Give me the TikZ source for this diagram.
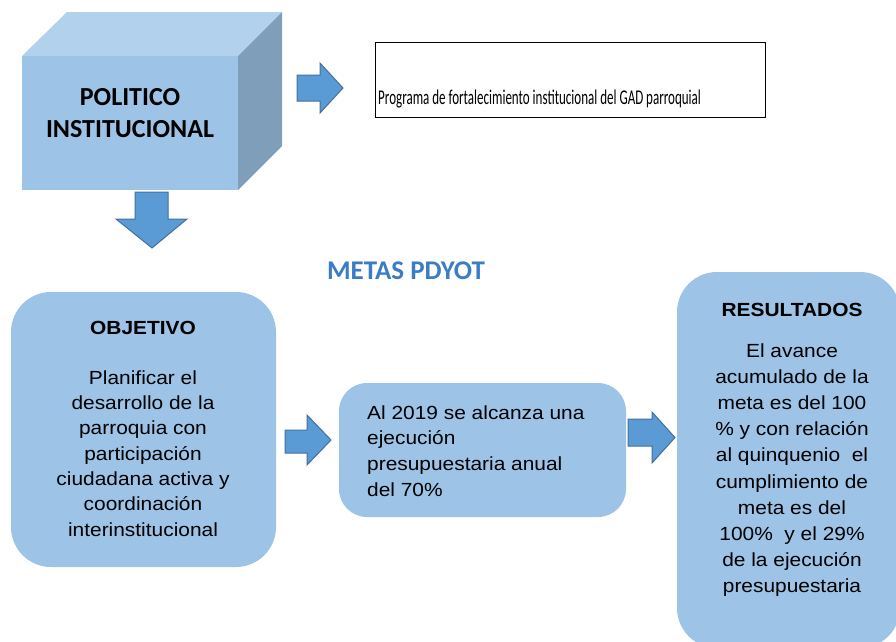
\documentclass[tikz,border=0pt]{standalone}
\usepackage{fontspec}
\setmainfont{Liberation Sans}
\newfontfamily\arialw[FakeStretch=1.1]{Liberation Sans}
\newfontfamily\calibri{Carlito}
\newfontfamily\calibrin[FakeStretch=0.62]{Carlito}
\usetikzlibrary{positioning}
\definecolor{boxblue}{HTML}{9DC3E6}
\definecolor{cubetop}{HTML}{B2D1EC}
\definecolor{cubeside}{HTML}{7F9EBA}
\definecolor{arrowblue}{HTML}{5B9BD5}
\definecolor{arrowline}{HTML}{41719C}
\definecolor{metasblue}{HTML}{3A7CC6}
\tikzset{
  panel/.style={fill=boxblue, draw=none},
  blockarrow/.style={fill=arrowblue, draw=arrowline, line width=1pt, line join=miter},
  titletext/.style={font=\arialw\bfseries\fontsize{19}{24}\selectfont, inner sep=0pt, anchor=base},
  bodytext/.style={font=\arialw\fontsize{19}{25.33}\selectfont, inner sep=0pt, anchor=base}
}
\begin{document}
\begin{tikzpicture}[x=1pt,y=-1pt]
                    \useasboundingbox (0,0) rectangle (896,641);

                    % cube
                    \fill[boxblue] (22,56) rectangle (238,190);
                    \fill[cubetop] (22,56) -- (67,12) -- (282,12) -- (238,56) -- cycle;
                    \fill[cubeside] (238,56) -- (282,12) -- (282,146) -- (238,190) -- cycle;
                    % base of a multi-line node = its last line
                    \node[font=\calibri\bfseries\fontsize{26}{32.5}\selectfont, align=center, inner sep=0pt, anchor=base] (politico) at (130,137.5) {POLITICO\\INSTITUCIONAL};

                    \draw[line width=0.8pt] (375,42) rectangle (765,117);
                    \node[font=\calibrin\fontsize{21}{21}\selectfont, inner sep=0pt, anchor=base west] (programa) at (378,104) {Programa de fortalecimiento institucional del GAD parroquial};

                    \node[font=\calibri\bfseries\fontsize{27}{27}\selectfont, text=metasblue, inner sep=0pt, anchor=base] (metas) at (406,279) {METAS PDYOT};

                    % boxes
                    \node[panel, rounded corners=40pt, minimum width=265pt, minimum height=275pt] (objetivo) at (143.5,429.5) {};
                    \node[titletext] (objtitle) at (143,334) {OBJETIVO};
                    \node[bodytext, align=center] (objtext) at (143,536) {Planificar el\\desarrollo de la\\parroquia con\\participación\\ciudadana activa y\\coordinación\\interinstitucional};

                    \node[panel, rounded corners=28pt, minimum width=287pt, minimum height=134pt] (meta) at (482.5,450) {};
                    \node[bodytext, align=left, anchor=base west, font=\arialw\fontsize{19}{25.8}\selectfont] (metatext) at (367,496.4) {Al 2019 se alcanza una\\ejecución\\presupuestaria anual\\del 70\%};

                    \node[panel, rounded corners=40pt, minimum width=223pt, minimum height=376pt] (resultados) at (788.5,460) {};
                    \node[titletext] (restitle) at (792,316) {RESULTADOS};
                    \node[bodytext, align=center, font=\arialw\fontsize{19}{26.2}\selectfont] (restext) at (792,592.8) {El avance\\acumulado de la\\meta es del 100\\\% y con relación\\al quinquenio~ el\\cumplimiento de\\meta es del\\100\%~ y el 29\%\\de la ejecución\\presupuestaria};

                    % arrows
                    \filldraw[blockarrow] (135,192) -- (168,192) -- (168,219) -- (187,219) -- (152,248) -- (116,219) -- (135,219) -- cycle;
                    \filldraw[blockarrow] (297,75) -- (320,75) -- (320,63) -- (343,88) -- (320,113) -- (320,101) -- (297,101) -- cycle;
                    \filldraw[blockarrow] (285,430) -- (307,430) -- (307,415) -- (331,440) -- (307,465) -- (307,453) -- (285,453) -- cycle;
                    \filldraw[blockarrow] (628,419) -- (652,419) -- (652,412) -- (675,437.5) -- (652,463) -- (652,446) -- (628,446) -- cycle;
                \end{tikzpicture}
\end{document}
